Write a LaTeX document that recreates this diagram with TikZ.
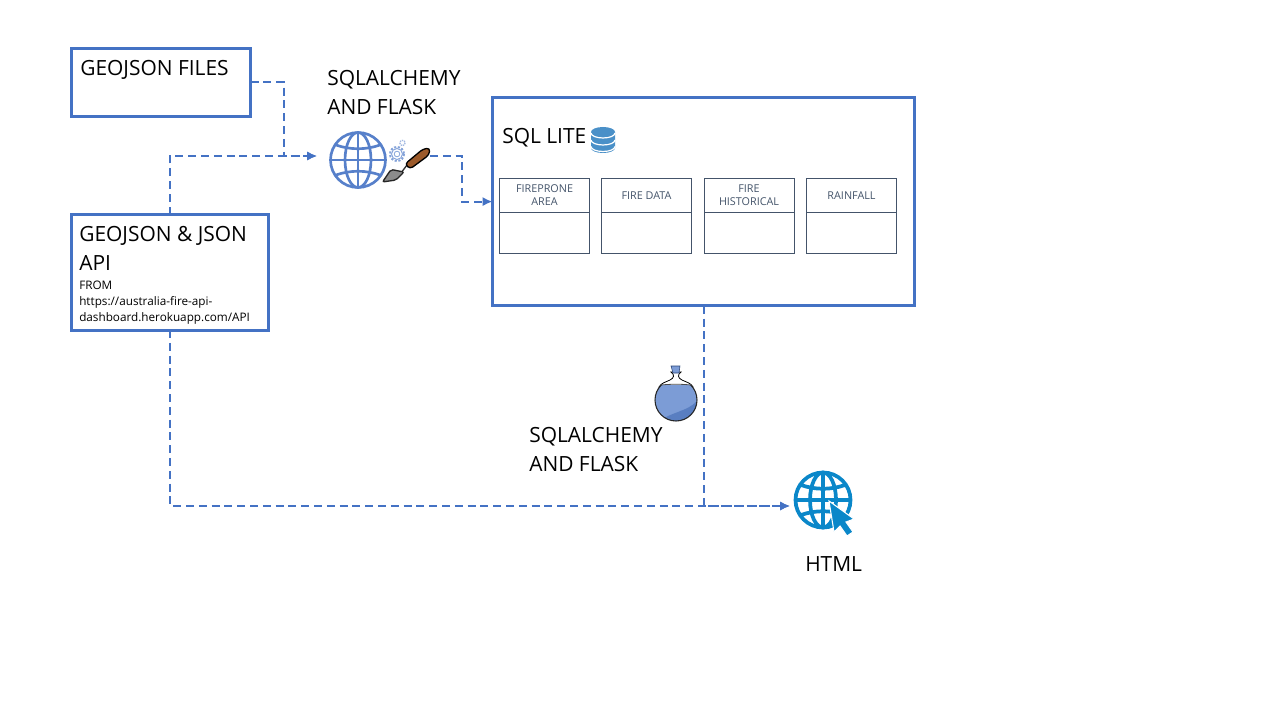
\documentclass[tikz,border=0pt]{standalone}
\usepackage{fontspec}
\setmainfont{Open Sans}
\usetikzlibrary{arrows,arrows.meta,calc}
\definecolor{boxblue}{HTML}{4472C4}
\definecolor{slate}{HTML}{44546A}
\definecolor{webblue}{HTML}{0A87C9}
\definecolor{dbblue}{HTML}{4A90C8}
\definecolor{handle}{HTML}{9C5A2A}
\tikzset{
    block/.style = {draw=boxblue, rectangle, line width=2.25pt, outer sep=0pt, inner sep=0pt},
    tablecell/.style = {draw=slate, rectangle, line width=.7pt, minimum width=67.5pt, inner sep=0pt, outer sep=0pt},
    tablehead/.style = {tablecell, minimum height=25.5pt, text=slate, font=\fontsize{8.1}{9.8}\selectfont, align=center},
    tablebody/.style = {tablecell, minimum height=30.75pt},
    caption/.style = {anchor=north west, inner sep=0pt, align=left, font=\fontsize{15.7}{21.75}\selectfont},
    hook/.style = {rectangle, inner sep=0pt, outer sep=0pt, minimum height=30pt},
    arrow/.style = {draw=boxblue, line width=1.5pt, dash pattern=on 6pt off 3.6pt, -{Latex[length=7.5pt,width=7pt]}}
}
\newcommand{\webglobe}[3]{%
    \begin{scope}[shift={(#1)}, draw=#2, line width=#3, fill=none]
        \draw (0,0) circle[radius=27.5];
        \draw (0,0) ellipse[x radius=13, y radius=27.5];
        \draw (0,-27.5) -- (0,27.5) (-27.5,0) -- (27.5,0);
        \draw (-22,-15) .. controls (-8,-10) and (8,-10) .. (22,-15);
        \draw (-22,15) .. controls (-8,10) and (8,10) .. (22,15);
    \end{scope}}
\begin{document}
\begin{tikzpicture}[x=.75pt,y=-.75pt]
    \useasboundingbox (0,0) rectangle (1280,720);
    % boxes
    \node[block, minimum width=134.25pt, minimum height=50.6pt] (files) at (161,82.3) {};
    \node[block, minimum width=147.75pt, minimum height=86.6pt] (api) at (170,272.3) {};
    \node[block, minimum width=316.5pt, minimum height=156.4pt] (sql) at (703.5,201.6) {};
    \node[hook, minimum width=84.75pt] (webapp) at (373.5,156) {};
    \node[hook, minimum width=49.5pt] (html) at (823,506) {};
    % tables
    \node[tablehead] (fireprone) at (544.5,195.5) {FIREPRONE\\AREA};
    \node[tablebody] (fireprone1) at (544.5,233) {};
    \node[tablehead] (firedata) at (646.5,195.5) {FIRE DATA};
    \node[tablebody] (firedata1) at (646.5,233) {};
    \node[tablehead] (firehist) at (749,195.5) {FIRE\\HISTORICAL};
    \node[tablebody] (firehist1) at (749,233) {};
    \node[tablehead] (rainfall) at (851.5,195.5) {RAINFALL};
    \node[tablebody] (rainfall1) at (851.5,233) {};
    % texts
    \node[caption] (filestxt) at (80,60) {GEOJSON FILES};
    \node[caption] (apitxt) at (79,226) {GEOJSON \& JSON\\API};
    \node[anchor=north west, inner sep=0pt, align=left, font=\fontsize{8.8}{12}\selectfont] (fromtxt) at (79,281) {FROM\\https://australia-fire-api-\\dashboard.herokuapp.com/API};
    \node[caption] (alchemy1) at (327,70) {SQLALCHEMY\\AND FLASK};
    \node[caption] (sqltxt) at (502,128) {SQL LITE};
    \node[caption] (alchemy2) at (529,427) {SQLALCHEMY\\AND FLASK};
    \node[caption] (htmltxt) at (805,556) {HTML};
    % connectors
    \draw[arrow] (files.east) -- ++(33,0) |- (webapp.west);
    \draw[arrow] (api.north) |- (webapp.west);
    \draw[arrow] (webapp.east) -- ++(32,0) |- (sql.west);
    \draw[arrow] (api.south) |- (html.west);
    \draw[arrow] (sql.south) |- (html.west);
    % globes
    \webglobe{358,160}{boxblue!90!white}{2pt}
    \webglobe{823,500}{webblue}{2.8pt}
    % cursor
    \draw[fill=webblue, draw=white, line width=.8pt] (829,501) -- (854,519) -- (846,522) -- (853,532) -- (847,536) -- (840,526) -- (834,532) -- cycle;
    % gears
    \draw[draw=boxblue!65!white, line width=1.5pt, dash pattern=on 1.6pt off 1.2pt] (397,154) circle[radius=7];
    \draw[draw=boxblue!65!white, line width=.7pt] (397,154) circle[radius=5.5];
    \draw[draw=boxblue!65!white, line width=.6pt] (397,154) circle[radius=2.8];
    \draw[draw=boxblue!50!white, line width=1pt, dash pattern=on 1pt off .7pt] (402.5,143) circle[radius=2.6];
    % trowel
    \draw[black!80, line width=1pt] (401,173) -- (407,165);
    \draw[draw=black!85, fill=black!45, line width=1pt, rounded corners=1.5pt] (382.5,182) -- (391,169.5) -- (404,172) -- (396,180) -- cycle;
    \draw[draw=black, fill=handle, line width=1pt, rounded corners=2.5pt] (405,164) -- (423,149) -- (430,148) -- (429,155) -- (410,169) -- cycle;
    % database
    \fill[dbblue] (591,132) -- (591,148) arc[start angle=180, end angle=0, x radius=12, y radius=5] -- (615,132) arc[start angle=0, end angle=-180, x radius=12, y radius=5];
    \draw[white, line width=.9pt] (591,133) arc[start angle=180, end angle=0, x radius=12, y radius=5];
    \draw[white, line width=.9pt] (591,140) arc[start angle=180, end angle=0, x radius=12, y radius=5];
    \draw[white, line width=.9pt] (591,146.5) arc[start angle=180, end angle=0, x radius=12, y radius=5];
    % flask
    \draw[draw=black, fill=white, line width=.6pt] (671,372) .. controls (675,375) and (674,378) .. (670,380) .. controls (666,382) and (661,383) .. (659,387) -- (693,387) .. controls (691,383) and (686,382) .. (682,380) .. controls (678,378) and (677,375) .. (681,372) -- cycle;
    \begin{scope}
        \clip (650,385) rectangle (702,425);
        \fill[boxblue!70!white] (676,400) circle[radius=21];
        \begin{scope}
            \clip (676,400) circle[radius=21];
            \fill[boxblue!90!black, opacity=.55] (664,418) .. controls (675,412) and (688,410) .. (696,402) -- (700,425) -- (664,425) -- cycle;
        \end{scope}
        \draw[draw=black!85, line width=.8pt] (676,400) circle[radius=21];
    \end{scope}
    \draw[draw=black!70, line width=.6pt] (661,385) .. controls (670,384) and (682,384) .. (691,385);
    \draw[draw=boxblue!60!black, fill=boxblue!70!white, line width=.4pt] (671,366) -- (680,366) -- (679,373) -- (673,373) -- cycle;
\end{tikzpicture}
\end{document}
